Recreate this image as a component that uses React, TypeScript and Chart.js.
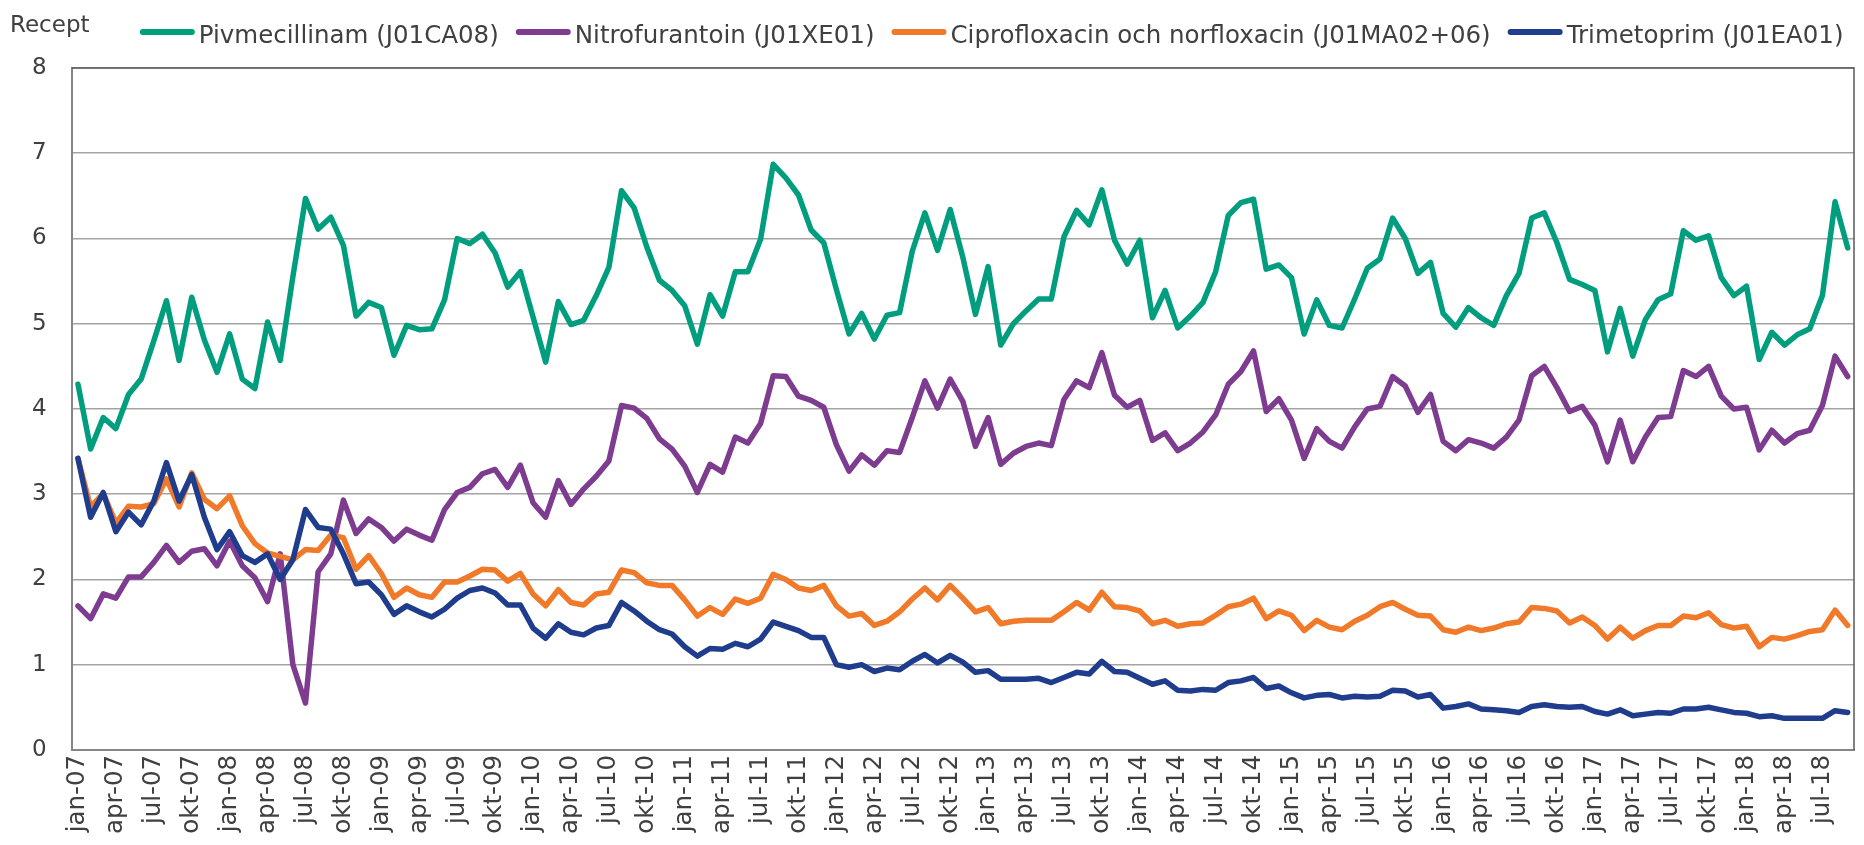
import { useEffect, useRef } from "react";
import { Chart, registerables } from "chart.js";

Chart.register(...registerables);

// ---- Data (monthly, jan-07 .. sep-18) ----
const MONTHS = ["jan", "feb", "mar", "apr", "maj", "jun", "jul", "aug", "sep", "okt", "nov", "dec"];
const YEARS = ["07", "08", "09", "10", "11", "12", "13", "14", "15", "16", "17", "18"];
const LAST_YEAR_MONTHS = 9; // data ends sep-18

const Y_TITLE = "Recept";
const SERIES_NAMES = [
  "Pivmecillinam (J01CA08)",
  "Nitrofurantoin (J01XE01)",
  "Ciprofloxacin och norfloxacin (J01MA02+06)",
  "Trimetoprim (J01EA01)",
];
const SERIES_COLORS = ["#009E7E", "#7D3C8F", "#F07A2A", "#1F3D8C"];

const pivmecillinam = [
  4.29, 3.53, 3.90, 3.77, 4.17, 4.35, 4.80, 5.27, 4.57, 5.31, 4.81, 4.43,
  4.88, 4.35, 4.24, 5.02, 4.57, 5.55, 6.47, 6.11, 6.25, 5.92, 5.09, 5.25,
  5.19, 4.63, 4.98, 4.93, 4.94, 5.28, 6.00, 5.94, 6.05, 5.83, 5.43, 5.61,
  5.08, 4.55, 5.26, 4.99, 5.04, 5.33, 5.66, 6.56, 6.36, 5.90, 5.51, 5.39,
  5.21, 4.76, 5.34, 5.09, 5.61, 5.61, 5.99, 6.87, 6.71, 6.51, 6.10, 5.95,
  5.40, 4.88, 5.12, 4.82, 5.10, 5.13, 5.85, 6.30, 5.86, 6.34, 5.78, 5.11,
  5.67, 4.75, 5.00, 5.15, 5.29, 5.29, 6.02, 6.33, 6.16, 6.57, 5.98, 5.70,
  5.98, 5.07, 5.39, 4.95, 5.09, 5.25, 5.61, 6.27, 6.42, 6.46, 5.64, 5.69,
  5.54, 4.88, 5.28, 4.98, 4.95, 5.29, 5.65, 5.76, 6.24, 6.00, 5.59, 5.72,
  5.12, 4.96, 5.19, 5.07, 4.98, 5.33, 5.59, 6.24, 6.30, 5.95, 5.52, 5.46,
  5.39, 4.67, 5.18, 4.62, 5.05, 5.28, 5.35, 6.09, 5.98, 6.03, 5.54, 5.33,
  5.44, 4.58, 4.90, 4.75, 4.87, 4.94, 5.33, 6.43, 5.89,
];

const nitrofurantoin = [
  1.69, 1.54, 1.83, 1.78, 2.03, 2.03, 2.20, 2.40, 2.20, 2.33, 2.36, 2.16,
  2.45, 2.16, 2.02, 1.74, 2.30, 1.00, 0.55, 2.09, 2.30, 2.93, 2.54, 2.71,
  2.61, 2.45, 2.59, 2.52, 2.46, 2.82, 3.02, 3.08, 3.24, 3.29, 3.08, 3.34,
  2.90, 2.73, 3.16, 2.88, 3.06, 3.21, 3.39, 4.04, 4.01, 3.89, 3.65, 3.53,
  3.33, 3.02, 3.35, 3.26, 3.67, 3.60, 3.83, 4.39, 4.38, 4.15, 4.10, 4.02,
  3.58, 3.27, 3.46, 3.34, 3.51, 3.49, 3.90, 4.33, 4.01, 4.35, 4.09, 3.56,
  3.90, 3.35, 3.48, 3.56, 3.60, 3.57, 4.11, 4.33, 4.25, 4.66, 4.16, 4.02,
  4.10, 3.63, 3.72, 3.51, 3.60, 3.73, 3.93, 4.29, 4.44, 4.68, 3.97, 4.12,
  3.87, 3.42, 3.77, 3.62, 3.54, 3.79, 4.00, 4.03, 4.38, 4.27, 3.96, 4.17,
  3.62, 3.51, 3.64, 3.60, 3.54, 3.67, 3.87, 4.39, 4.50, 4.25, 3.97, 4.03,
  3.81, 3.38, 3.87, 3.38, 3.67, 3.90, 3.91, 4.45, 4.38, 4.50, 4.15, 4.00,
  4.02, 3.52, 3.75, 3.60, 3.71, 3.75, 4.04, 4.62, 4.38,
];

const ciproNorflox = [
  3.42, 2.85, 3.01, 2.66, 2.86, 2.85, 2.89, 3.18, 2.85, 3.25, 2.94, 2.83,
  2.98, 2.63, 2.42, 2.31, 2.27, 2.23, 2.35, 2.34, 2.52, 2.49, 2.12, 2.28,
  2.07, 1.79, 1.90, 1.82, 1.79, 1.97, 1.97, 2.04, 2.12, 2.11, 1.98, 2.07,
  1.83, 1.69, 1.88, 1.73, 1.70, 1.83, 1.85, 2.11, 2.08, 1.96, 1.93, 1.93,
  1.76, 1.57, 1.67, 1.59, 1.77, 1.72, 1.78, 2.06, 2.00, 1.90, 1.87, 1.93,
  1.69, 1.57, 1.60, 1.46, 1.51, 1.62, 1.77, 1.90, 1.76, 1.93, 1.78, 1.62,
  1.67, 1.48, 1.51, 1.52, 1.52, 1.52, 1.62, 1.73, 1.64, 1.85, 1.68, 1.67,
  1.63, 1.48, 1.52, 1.45, 1.48, 1.49, 1.58, 1.68, 1.71, 1.78, 1.54, 1.63,
  1.58, 1.40, 1.52, 1.44, 1.41, 1.51, 1.58, 1.68, 1.73, 1.65, 1.58, 1.57,
  1.41, 1.38, 1.44, 1.40, 1.43, 1.48, 1.50, 1.67, 1.66, 1.63, 1.49, 1.56,
  1.46, 1.30, 1.44, 1.31, 1.40, 1.46, 1.46, 1.57, 1.55, 1.61, 1.47, 1.43,
  1.45, 1.21, 1.32, 1.30, 1.34, 1.39, 1.41, 1.64, 1.46,
];

const trimetoprim = [
  3.42, 2.73, 3.02, 2.56, 2.79, 2.64, 2.92, 3.37, 2.92, 3.23, 2.73, 2.35,
  2.56, 2.28, 2.20, 2.30, 2.00, 2.23, 2.82, 2.61, 2.59, 2.30, 1.95, 1.97,
  1.82, 1.59, 1.69, 1.62, 1.56, 1.65, 1.78, 1.87, 1.90, 1.84, 1.70, 1.70,
  1.43, 1.31, 1.48, 1.38, 1.35, 1.43, 1.46, 1.73, 1.63, 1.51, 1.41, 1.36,
  1.21, 1.10, 1.19, 1.18, 1.25, 1.21, 1.30, 1.50, 1.45, 1.40, 1.32, 1.32,
  1.00, 0.97, 1.00, 0.92, 0.96, 0.94, 1.04, 1.12, 1.02, 1.11, 1.03, 0.91,
  0.93, 0.83, 0.83, 0.83, 0.84, 0.79, 0.85, 0.91, 0.89, 1.04, 0.92, 0.91,
  0.84, 0.77, 0.81, 0.70, 0.69, 0.71, 0.70, 0.79, 0.81, 0.85, 0.72, 0.75,
  0.67, 0.61, 0.64, 0.65, 0.61, 0.63, 0.62, 0.63, 0.70, 0.69, 0.62, 0.65,
  0.49, 0.51, 0.54, 0.48, 0.47, 0.46, 0.44, 0.51, 0.53, 0.51, 0.50, 0.51,
  0.45, 0.42, 0.47, 0.40, 0.42, 0.44, 0.43, 0.48, 0.48, 0.50, 0.47, 0.44,
  0.43, 0.39, 0.40, 0.37, 0.37, 0.37, 0.37, 0.46, 0.44,
];

const Y_MIN = 0;
const Y_MAX = 8;
const Y_STEP = 1;

// category labels built from the month/year lists
const CATEGORIES: string[] = [];
YEARS.forEach((yy, yi) => {
  const n = yi === YEARS.length - 1 ? LAST_YEAR_MONTHS : 12;
  for (let m = 0; m < n; m++) CATEGORIES.push(`${MONTHS[m]}-${yy}`);
});

const FONT_FAMILY = "'DejaVu Sans', 'Liberation Sans', sans-serif";
const TEXT_COLOR = "#404040";

const overlayPlugin = {
  id: "overlay",
  afterDraw(chart: any) {
    const { ctx, chartArea: a } = chart;
    ctx.save();
    // plot frame (top + right)
    ctx.strokeStyle = "#5a5a5a";
    ctx.lineWidth = 1.5;
    ctx.beginPath();
    ctx.moveTo(a.left, a.top);
    ctx.lineTo(a.right, a.top);
    ctx.lineTo(a.right, a.bottom);
    ctx.stroke();

    // y title
    ctx.fillStyle = TEXT_COLOR;
    ctx.textAlign = "left";
    ctx.textBaseline = "alphabetic";
    ctx.font = `23px ${FONT_FAMILY}`;
    ctx.fillText(Y_TITLE, 10, 32);

    // legend
    ctx.font = `24.5px ${FONT_FAMILY}`;
    const sampleW = 55;
    const gapText = 4;
    const gapItem = 17;
    const widths = SERIES_NAMES.map((s) => ctx.measureText(s).width);
    const total =
      widths.reduce((p, w) => p + w + sampleW + gapText, 0) + gapItem * (SERIES_NAMES.length - 1);
    let x = chart.width * 0.532 - total / 2;
    const lineY = 32;
    SERIES_NAMES.forEach((name, i) => {
      ctx.strokeStyle = SERIES_COLORS[i];
      ctx.lineWidth = 6;
      ctx.lineCap = "round";
      ctx.beginPath();
      ctx.moveTo(x + 3, lineY);
      ctx.lineTo(x + sampleW - 3, lineY);
      ctx.stroke();
      x += sampleW + gapText;
      ctx.fillStyle = TEXT_COLOR;
      ctx.fillText(name, x, 43);
      x += widths[i] + gapItem;
    });
    ctx.restore();
  },
};

export default function App() {
  const canvasRef = useRef<HTMLCanvasElement | null>(null);

  useEffect(() => {
    if (!canvasRef.current) return;
    const seriesData = [pivmecillinam, nitrofurantoin, ciproNorflox, trimetoprim];
    const chart = new Chart(canvasRef.current, {
      type: "line",
      data: {
        labels: CATEGORIES,
        datasets: seriesData.map((d, i) => ({
          label: SERIES_NAMES[i],
          data: d,
          borderColor: SERIES_COLORS[i],
          backgroundColor: SERIES_COLORS[i],
          borderWidth: 5.5,
          pointRadius: 0,
          tension: 0,
          fill: false,
          borderJoinStyle: "round" as const,
          borderCapStyle: "round" as const,
          order: seriesData.length - i,
        })),
      },
      options: {
        animation: false,
        responsive: true,
        maintainAspectRatio: false,
        layout: { padding: { top: 68, left: 7, right: 10, bottom: 6 } },
        plugins: {
          legend: { display: false },
          tooltip: { enabled: false },
          title: { display: false },
        },
        scales: {
          x: {
            type: "category",
            offset: true,
            grid: { display: false, drawTicks: false },
            border: { display: true, color: "#868686", width: 2 },
            ticks: {
              autoSkip: false,
              maxRotation: 90,
              minRotation: 90,
              padding: 5,
              color: TEXT_COLOR,
              font: { family: FONT_FAMILY, size: 24.5 },
              callback: (_v: any, idx: number) => (idx % 3 === 0 ? CATEGORIES[idx] : null),
            },
          },
          y: {
            min: Y_MIN,
            max: Y_MAX,
            ticks: {
              stepSize: Y_STEP,
              padding: 25,
              color: TEXT_COLOR,
              font: { family: FONT_FAMILY, size: 23 },
            },
            grid: { color: "#a3a3a3", lineWidth: 1.5, drawTicks: false },
            border: { display: true, color: "#868686", width: 2 },
          },
        },
      },
      plugins: [overlayPlugin],
    });
    return () => chart.destroy();
  }, []);

  return (
    <div style={{ position: "fixed", left: 0, top: 0, width: "100vw", height: "100vh", background: "#fff" }}>
      <canvas ref={canvasRef} />
    </div>
  );
}
